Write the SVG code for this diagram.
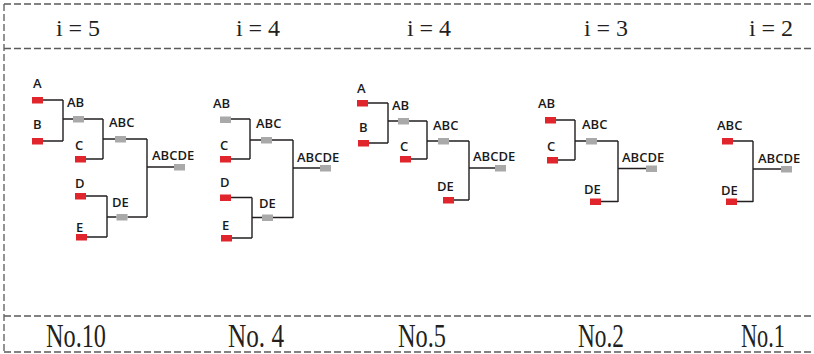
<svg xmlns="http://www.w3.org/2000/svg" width="814" height="354" viewBox="0 0 814 354">
<style>
.frame{fill:none;stroke:#5a5a5a;stroke-width:1.3;stroke-dasharray:7 3}
.title{font-family:"Liberation Serif","Times New Roman",serif;font-size:24px;fill:#231f20;text-anchor:middle}
.foot{font-family:"Liberation Serif","Times New Roman",serif;font-size:34px;fill:#231f20}
.lbl{font-family:"Open Sans","Noto Sans",sans-serif;font-size:13px;font-weight:600;fill:#1a1a1a}
.leaf{fill:#e0262c}
.merge{fill:#a9a9a9}
.conn{fill:none;stroke:#231f20;stroke-width:1.4}
</style>
<rect width="814" height="354" fill="#ffffff"/>
<g id="frame">
<path class="frame" d="M4 4H814M4 48.5H814M4 316H814M4 352H814M4 4V352"/>
</g>
<g id="titles">
<text class="title" x="78" y="36">i = 5</text>
<text class="title" x="258" y="36">i = 4</text>
<text class="title" x="429" y="36">i = 4</text>
<text class="title" x="606" y="36">i = 3</text>
<text class="title" x="771" y="36">i = 2</text>
</g>
<g id="footers">
<text class="foot" x="46" y="347" textLength="60" lengthAdjust="spacingAndGlyphs">No.10</text>
<text class="foot" x="228" y="347" textLength="56" lengthAdjust="spacingAndGlyphs">No. 4</text>
<text class="foot" x="398" y="347" textLength="48" lengthAdjust="spacingAndGlyphs">No.5</text>
<text class="foot" x="578" y="347" textLength="46" lengthAdjust="spacingAndGlyphs">No.2</text>
<text class="foot" x="741" y="347" textLength="44" lengthAdjust="spacingAndGlyphs">No.1</text>
</g>
<g id="connectors">
<path class="conn" d="M43 100H63M43 141H63M63 100V141M63 119H73M84 119H103M103 119V159M86 159H103M103 139H115M126 139H147M147 139V217M147 167H174M86 196H107M87 237H107M107 196V237M107 217H116.5M127.5 217H147"/>
<path class="conn" d="M231 119H250M250 119V159M231 159H250M250 140H261M272 140H293M293 140V218M293 168H320M231 197.5H252M252 197.5V238M232 238H252M252 217.5H262M273 217.5H293"/>
<path class="conn" d="M368 103H388M388 103V143M369 143H388M388 121H398M409 121H427M427 121V159M411 159H427M427 141H438M449 141H469M469 141V200M469 168H495M454 200H469"/>
<path class="conn" d="M556 120H575M575 120V160M558 160H575M575 141H586M597 141H618M618 141V202M618 168.5H646M601 201.5H618"/>
<path class="conn" d="M733 141H753M753 141V202M753 169H781M737 201.5H753"/>
</g>
<g id="p1-A"><rect class="leaf" x="32" y="97" width="11" height="6.5"/><text class="lbl" x="33" y="88">A</text></g>
<g id="p1-B"><rect class="leaf" x="32" y="138" width="11" height="6.5"/><text class="lbl" x="33" y="129">B</text></g>
<g id="p1-AB"><rect class="merge" x="73" y="116" width="11" height="6.5"/><text class="lbl" x="67" y="107">AB</text></g>
<g id="p1-C"><rect class="leaf" x="75" y="156" width="11" height="6.5"/><text class="lbl" x="75" y="150">C</text></g>
<g id="p1-ABC"><rect class="merge" x="115" y="136" width="11" height="6.5"/><text class="lbl" x="109" y="127">ABC</text></g>
<g id="p1-ABCDE"><rect class="merge" x="174" y="164" width="11" height="6.5"/><text class="lbl" x="152" y="160">ABCDE</text></g>
<g id="p1-D"><rect class="leaf" x="75" y="193" width="11" height="6.5"/><text class="lbl" x="75" y="188">D</text></g>
<g id="p1-E"><rect class="leaf" x="76" y="234" width="11" height="6.5"/><text class="lbl" x="76" y="232">E</text></g>
<g id="p1-DE"><rect class="merge" x="116.5" y="214" width="11" height="6.5"/><text class="lbl" x="112" y="207">DE</text></g>
<g id="p2-AB"><rect class="merge" x="220" y="116.5" width="11" height="6.5"/><text class="lbl" x="213" y="108">AB</text></g>
<g id="p2-C"><rect class="leaf" x="220" y="156" width="11" height="6.5"/><text class="lbl" x="220" y="150">C</text></g>
<g id="p2-ABC"><rect class="merge" x="261" y="137" width="11" height="6.5"/><text class="lbl" x="256" y="128">ABC</text></g>
<g id="p2-ABCDE"><rect class="merge" x="320" y="165" width="11" height="6.5"/><text class="lbl" x="297" y="162">ABCDE</text></g>
<g id="p2-D"><rect class="leaf" x="220" y="194.5" width="11" height="6.5"/><text class="lbl" x="220" y="187">D</text></g>
<g id="p2-E"><rect class="leaf" x="221" y="235" width="11" height="6.5"/><text class="lbl" x="222" y="230">E</text></g>
<g id="p2-DE"><rect class="merge" x="262" y="214.5" width="11" height="6.5"/><text class="lbl" x="259" y="208">DE</text></g>
<g id="p3-A"><rect class="leaf" x="357" y="100" width="11" height="6.5"/><text class="lbl" x="357" y="93">A</text></g>
<g id="p3-B"><rect class="leaf" x="358" y="140" width="11" height="6.5"/><text class="lbl" x="359" y="132">B</text></g>
<g id="p3-AB"><rect class="merge" x="398" y="118" width="11" height="6.5"/><text class="lbl" x="392" y="110">AB</text></g>
<g id="p3-C"><rect class="leaf" x="400" y="156" width="11" height="6.5"/><text class="lbl" x="400" y="151">C</text></g>
<g id="p3-ABC"><rect class="merge" x="438" y="138" width="11" height="6.5"/><text class="lbl" x="433" y="130">ABC</text></g>
<g id="p3-ABCDE"><rect class="merge" x="495" y="165" width="11" height="6.5"/><text class="lbl" x="473" y="161">ABCDE</text></g>
<g id="p3-DE"><rect class="leaf" x="443" y="197" width="11" height="6.5"/><text class="lbl" x="437" y="191">DE</text></g>
<g id="p4-AB"><rect class="leaf" x="545" y="117" width="11" height="6.5"/><text class="lbl" x="538" y="108">AB</text></g>
<g id="p4-C"><rect class="leaf" x="547" y="157" width="11" height="6.5"/><text class="lbl" x="547" y="151">C</text></g>
<g id="p4-ABC"><rect class="merge" x="586" y="138" width="11" height="6.5"/><text class="lbl" x="582" y="129">ABC</text></g>
<g id="p4-ABCDE"><rect class="merge" x="646" y="165.5" width="11" height="6.5"/><text class="lbl" x="622" y="162">ABCDE</text></g>
<g id="p4-DE"><rect class="leaf" x="590" y="198.5" width="11" height="6.5"/><text class="lbl" x="584" y="194">DE</text></g>
<g id="p5-ABC"><rect class="leaf" x="722" y="138" width="11" height="6.5"/><text class="lbl" x="717" y="130">ABC</text></g>
<g id="p5-ABCDE"><rect class="merge" x="781" y="166" width="11" height="6.5"/><text class="lbl" x="758" y="163">ABCDE</text></g>
<g id="p5-DE"><rect class="leaf" x="726" y="198.5" width="11" height="6.5"/><text class="lbl" x="721" y="195">DE</text></g>
</svg>
